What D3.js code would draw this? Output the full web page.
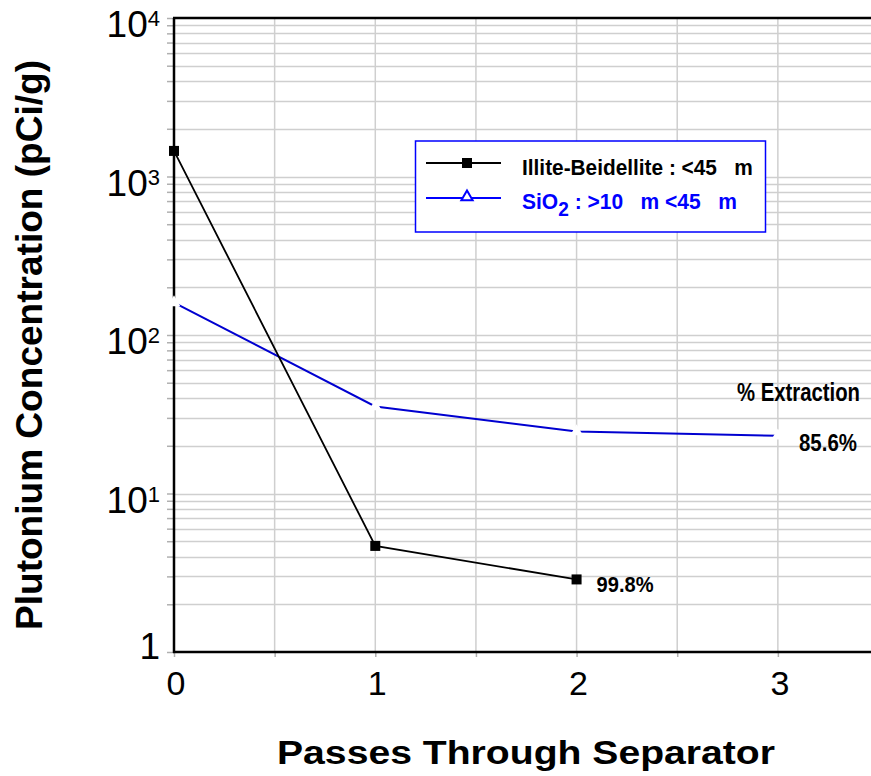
<!DOCTYPE html>
<html>
<head>
<meta charset="utf-8">
<script src="https://cdn.jsdelivr.net/npm/d3@7"></script>
<style>
  html, body { margin: 0; padding: 0; background: #fff; }
  svg { display: block; }
  .narrow { font-family: 'Liberation Sans Narrow', 'Arial Narrow', 'Liberation Sans', Arial, sans-serif; font-weight: bold; }
</style>
</head>
<body>
<svg id="chart" width="871" height="776"></svg>
<script>
// ---- data ----
const passes = [0, 1, 2, 3];
const illitePasses = [0, 1, 2];
const illiteValues = [1450, 4.67, 2.87];
const sio2Passes = [0, 1, 2, 3];
const sio2Values = [160, 35.4, 24.6, 23.1];
const yDecades = [1, 10, 100, 1000, 10000];
const yExponents = [null, 1, 2, 3, 4];
const xTicks = [0, 1, 2, 3];
const legendLabels = ["Illite-Beidellite : <45   m", "SiO2 : >10   m <45   m"];
const extractionTitle = "% Extraction";
const extractionLabels = ["99.8%", "85.6%"];
const xTitle = "Passes Through Separator";
const yTitle = "Plutonium Concentration (pCi/g)";

// ---- layout ----
const svg = d3.select("#chart");
const plotLeft = 174, plotTop = 18, plotBottom = 652;
const x = d3.scaleLinear().domain([0, 3.5]).range([plotLeft, 878.5]);
const y = d3.scaleLog().domain([1, 10000]).range([plotBottom, plotTop]);
const gridColor = "#cfcfcf";
const blue = "#0000ff";
const blueLine = "#0000d0";

// helper: horizontally condense a text element to a target width, anchored at left x
function fitWidth(sel, x0, y0, target) {
  sel.attr("x", 0).attr("y", 0);
  const w = sel.node().getBBox().width;
  const s = target / w;
  sel.attr("transform", `translate(${x0},${y0}) scale(${s},1)`);
}

// gridlines horizontal (every 1..9 per decade)
const yGridVals = [];
for (let d = 1; d < 10000; d *= 10) for (let k = 1; k <= 10; k++) yGridVals.push(d * k);
const uniqY = Array.from(new Set(yGridVals)).filter(v => v > 1 && v < 10000);
const grid = svg.append("g");
grid.selectAll("line.h").data(uniqY).join("line")
  .attr("x1", plotLeft).attr("x2", 878)
  .attr("y1", d => Math.round(y(d)) + 0.5).attr("y2", d => Math.round(y(d)) + 0.5)
  .attr("stroke", gridColor).attr("stroke-width", 1.5);
// gridlines vertical every 0.5
const xGridVals = d3.range(0.5, 3.51, 0.5);
grid.selectAll("line.v").data(xGridVals).join("line")
  .attr("x1", d => x(d)).attr("x2", d => x(d))
  .attr("y1", plotTop).attr("y2", plotBottom)
  .attr("stroke", gridColor).attr("stroke-width", 1.5);

// axes via d3
const yAxis = d3.axisLeft(y).tickValues(uniqY.concat([1, 10000])).tickSize(7).tickFormat("");
const gy = svg.append("g").attr("transform", `translate(${plotLeft},0)`).call(yAxis);
gy.selectAll(".tick line").attr("stroke", "#b0b0b0").attr("stroke-width", 1.5);
gy.select(".domain").remove();

const xAxis = d3.axisBottom(x).tickValues(d3.range(0, 3.51, 0.5)).tickSize(5).tickFormat("");
const gx = svg.append("g").attr("transform", `translate(0,${plotBottom})`).call(xAxis);
gx.selectAll(".tick line").attr("stroke", "#b0b0b0").attr("stroke-width", 1.5);
gx.select(".domain").remove();

// axis frame lines
svg.append("line").attr("x1", plotLeft).attr("x2", plotLeft).attr("y1", plotTop).attr("y2", plotBottom + 1)
  .attr("stroke", "#000").attr("stroke-width", 2.5);
svg.append("line").attr("x1", plotLeft - 1).attr("x2", 878).attr("y1", plotBottom).attr("y2", plotBottom)
  .attr("stroke", "#000").attr("stroke-width", 2.5);
svg.append("line").attr("x1", plotLeft - 1).attr("x2", 878).attr("y1", plotTop).attr("y2", plotTop)
  .attr("stroke", "#000").attr("stroke-width", 2.5);

// y tick labels
const yl = svg.append("g").attr("font-family", "'Liberation Sans', Arial, sans-serif").attr("fill", "#000");
yDecades.forEach((v, i) => {
  const t = yl.append("text").attr("text-anchor", "end");
  if (yExponents[i] === null) {
    t.attr("x", 160).attr("y", y(v) + 7).attr("font-size", 37).text("1");
  } else {
    t.attr("x", 160).attr("y", y(v) + 19);
    t.append("tspan").attr("font-size", 37).text("10");
    t.append("tspan").attr("font-size", 22).attr("dy", -11).text(yExponents[i]);
  }
});

// x tick labels
svg.append("g").selectAll("text").data(xTicks).join("text")
  .attr("x", d => x(d) + 2).attr("y", 695)
  .attr("text-anchor", "middle")
  .attr("font-family", "'Liberation Sans', Arial, sans-serif")
  .attr("font-size", 34).text(d => d);

// axis titles
svg.append("text").attr("x", 526).attr("y", 764).attr("text-anchor", "middle")
  .attr("font-family", "'Liberation Sans', Arial, sans-serif").attr("font-weight", "bold")
  .attr("font-size", 33).attr("textLength", 498).attr("lengthAdjust", "spacingAndGlyphs")
  .text(xTitle);
svg.append("text").attr("transform", "translate(42,345) rotate(-90)").attr("text-anchor", "middle")
  .attr("font-family", "'Liberation Sans', Arial, sans-serif").attr("font-weight", "bold")
  .attr("font-size", 37).attr("textLength", 570).attr("lengthAdjust", "spacingAndGlyphs")
  .text(yTitle);

// series lines
const line = d3.line().x(d => x(d[0])).y(d => y(d[1]));
const illiteData = illitePasses.map((p, i) => [p, illiteValues[i]]);
const sio2Data = sio2Passes.map((p, i) => [p, sio2Values[i]]);

svg.append("path").datum(sio2Data).attr("d", line)
  .attr("fill", "none").attr("stroke", blueLine).attr("stroke-width", 2);
svg.append("path").datum(illiteData).attr("d", line)
  .attr("fill", "none").attr("stroke", "#000").attr("stroke-width", 1.8);

// sio2 markers: white triangles (appear as gaps)
svg.append("g").selectAll("path").data(sio2Data).join("path")
  .attr("transform", d => `translate(${x(d[0])},${y(d[1])})`)
  .attr("d", d3.symbol(d3.symbolTriangle, 70))
  .attr("fill", "#fff");
// illite markers
svg.append("g").selectAll("rect").data(illiteData).join("rect")
  .attr("x", d => x(d[0]) - 5).attr("y", d => y(d[1]) - 5)
  .attr("width", 10).attr("height", 10).attr("fill", "#000");

// annotations
fitWidth(svg.append("text").attr("class", "narrow").attr("font-size", 25).text(extractionTitle), 737, 401, 123);
fitWidth(svg.append("text").attr("class", "narrow").attr("font-size", 23).text(extractionLabels[0]),
  x(illitePasses[2]) + 20, y(illiteValues[2]) + 13, 57);
fitWidth(svg.append("text").attr("class", "narrow").attr("font-size", 23).text(extractionLabels[1]), 799, 451, 58);

// legend
const lg = svg.append("g");
lg.append("rect").attr("x", 415.5).attr("y", 141).attr("width", 350).attr("height", 91)
  .attr("fill", "#fff").attr("stroke", blue).attr("stroke-width", 1.5);
lg.append("line").attr("x1", 426).attr("x2", 501).attr("y1", 163).attr("y2", 163)
  .attr("stroke", "#000").attr("stroke-width", 1.8);
lg.append("rect").attr("x", 462).attr("y", 158).attr("width", 10).attr("height", 10).attr("fill", "#000");
lg.append("line").attr("x1", 426).attr("x2", 501).attr("y1", 198).attr("y2", 198)
  .attr("stroke", blue).attr("stroke-width", 1.8);
lg.append("path").attr("transform", "translate(467,197)")
  .attr("d", d3.symbol(d3.symbolTriangle, 55))
  .attr("fill", "#fff").attr("stroke", blue).attr("stroke-width", 2);
const t1 = lg.append("text").attr("class", "narrow")
  .attr("font-size", 22).attr("fill", "#000")
  .style("white-space", "pre").text(legendLabels[0]);
fitWidth(t1, 522, 175, 231);
const t2 = lg.append("text").attr("class", "narrow")
  .attr("font-size", 22).attr("fill", blue).style("white-space", "pre");
t2.append("tspan").text("SiO");
t2.append("tspan").attr("dy", 7).attr("font-size", 20).text("2");
t2.append("tspan").attr("dy", -7).text(" : >10   m <45   m");
fitWidth(t2, 522, 209, 215);
</script>
</body>
</html>
